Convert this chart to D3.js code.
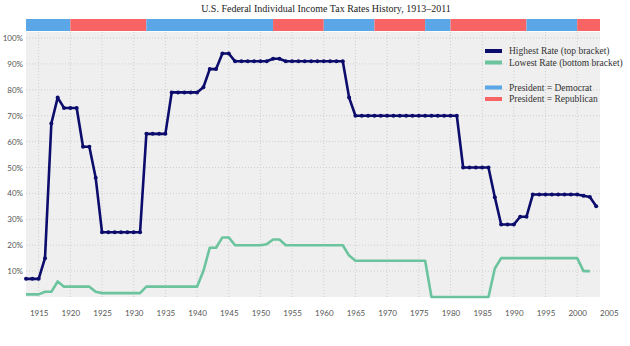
<!DOCTYPE html>
<html><head><meta charset="utf-8">
<script src="https://cdn.jsdelivr.net/npm/d3@7"></script>
<style>body{margin:0;background:#fff}svg{display:block}</style>
</head><body><svg id="c" width="630" height="346"></svg>
<script>
const years = d3.range(1913, 2004);
const highest = [7,7,7,15,67,77,73,73,73,58,58,46,25,25,25,25,25,25,25,63,63,63,63,79,79,79,79,79,81,88,88,94,94,91,91,91,91,91,91,92,92,91,91,91,91,91,91,91,91,91,91,77,70,70,70,70,70,70,70,70,70,70,70,70,70,70,70,70,70,50,50,50,50,50,38.5,28,28,28,31,31,39.6,39.6,39.6,39.6,39.6,39.6,39.6,39.6,39.1,38.6,35];
const lowest = [1,1,1,2,2,6,4,4,4,4,4,2,1.5,1.5,1.5,1.5,1.5,1.5,1.5,4,4,4,4,4,4,4,4,4,10,19,19,23,23,20,20,20,20,20,20.4,22.2,22.2,20,20,20,20,20,20,20,20,20,20,16,14,14,14,14,14,14,14,14,14,14,14,14,0,0,0,0,0,0,0,0,0,0,11,15,15,15,15,15,15,15,15,15,15,15,15,15,10,10];
const presidents = [
  {start:1913,end:1920,party:"D"},{start:1920,end:1932,party:"R"},{start:1932,end:1952,party:"D"},
  {start:1952,end:1960,party:"R"},{start:1960,end:1968,party:"D"},{start:1968,end:1976,party:"R"},
  {start:1976,end:1980,party:"D"},{start:1980,end:1992,party:"R"},{start:1992,end:2000,party:"D"},
  {start:2000,end:2003.6,party:"R"}];
const xTicks = [1915,1920,1925,1930,1935,1940,1945,1950,1955,1960,1965,1970,1975,1980,1985,1990,1995,2000,2005];
const yTicks = [10,20,30,40,50,60,70,80,90,100];
const legendItems = [
  {label:"Highest Rate (top bracket)", key:"high"},
  {label:"Lowest Rate (bottom bracket)", key:"low"},
  {label:"President = Democrat", key:"D"},
  {label:"President = Republican", key:"R"}];

const col = {high:"#0c0c6c", low:"#6cc49f", D:"#5aa6e6", R:"#f86464"};
const svg = d3.select("#c");
const x = d3.scaleLinear().domain([1913, 2003.6]).range([26, 600]);
const y = d3.scaleLinear().domain([0, 100]).range([297, 38]);

svg.append("text").attr("x", 326).attr("y", 12).attr("text-anchor","middle")
  .attr("font-family","Liberation Serif, serif").attr("font-size", 10).attr("fill","#222")
  .text("U.S. Federal Individual Income Tax Rates History, 1913–2011");

svg.append("rect").attr("x", x(1913)).attr("y", 32).attr("width", x(2003.6)-x(1913)).attr("height", y(0)-32).attr("fill","#efefef");

// grid
svg.append("g").selectAll("line").data(yTicks).join("line")
  .attr("x1", x(1913)).attr("x2", x(2003.6)).attr("y1", d=>y(d)).attr("y2", d=>y(d))
  .attr("stroke","#cfcfcf").attr("stroke-dasharray","1,2");
svg.append("g").selectAll("line").data(xTicks.filter(d=>d<2003)).join("line")
  .attr("x1", d=>x(d)).attr("x2", d=>x(d)).attr("y1", 32).attr("y2", y(0))
  .attr("stroke","#cfcfcf").attr("stroke-dasharray","1,2");

// president bar
svg.append("g").selectAll("rect").data(presidents).join("rect")
  .attr("x", d=>x(d.start)).attr("width", d=>x(d.end)-x(d.start)).attr("y", 19).attr("height", 12)
  .attr("fill", d=>col[d.party]);

// axes
const xAxis = svg.append("g").attr("transform",`translate(0,${y(0)})`)
  .call(d3.axisBottom(x).tickValues(xTicks).tickFormat(d3.format("d")).tickSize(0).tickPadding(13));
const yAxis = svg.append("g").attr("transform",`translate(${x(1913)},0)`)
  .call(d3.axisLeft(y).tickValues(yTicks).tickFormat(d=>d+"%").tickSize(0).tickPadding(3));
[xAxis,yAxis].forEach(a=>{a.select(".domain").remove();
  a.selectAll("text").attr("font-family","Lato, sans-serif").attr("font-size",8).attr("fill","#555");});

const line = d3.line().x((d,i)=>x(years[i])).y(d=>y(d));
svg.append("path").datum(lowest).attr("d", line).attr("fill","none").attr("stroke",col.low).attr("stroke-width",2.6).attr("stroke-linejoin","round");
svg.append("path").datum(highest).attr("d", line).attr("fill","none").attr("stroke",col.high).attr("stroke-width",2.6).attr("stroke-linejoin","round");
svg.append("g").selectAll("circle").data(highest).join("circle")
  .attr("cx",(d,i)=>x(years[i])).attr("cy",d=>y(d)).attr("r",2).attr("fill",col.high);

// legend
const ly = [51, 62.5, 87.5, 99];
const lg = svg.append("g").selectAll("g").data(legendItems).join("g")
  .attr("transform",(d,i)=>`translate(485,${ly[i]})`);
lg.append("rect").attr("x",0).attr("y",-2).attr("width",17).attr("height",4).attr("fill",d=>col[d.key]);
lg.append("text").attr("x",24).attr("y",3).attr("font-family","Liberation Serif, serif").attr("font-size",9.5).attr("fill","#333").text(d=>d.label);
</script></body></html>
